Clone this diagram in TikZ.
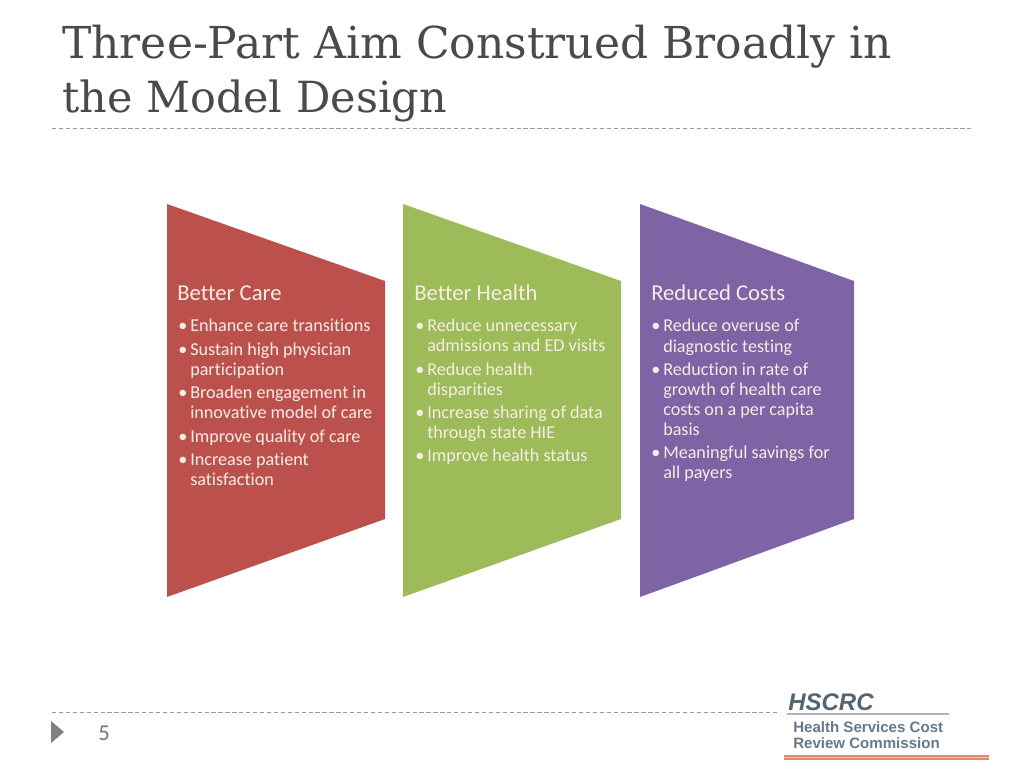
\documentclass[tikz,border=0pt]{standalone}
\usepackage{fontspec}
\setmainfont[Ligatures=NoCommon]{Carlito}
\newfontfamily\titlefont{DejaVu Serif}
\newfontfamily\logofont{Liberation Sans}
\definecolor{cred}{HTML}{BC504D}
\definecolor{cgreen}{HTML}{9EBB59}
\definecolor{cpurple}{HTML}{7E63A5}
\definecolor{ctitle}{HTML}{4A4A4A}
\definecolor{cdash}{HTML}{9A9A9A}
\definecolor{clogo}{HTML}{66798A}
\definecolor{clogod}{HTML}{55646F}
\definecolor{ctext}{HTML}{F6EDE4}
\definecolor{csalmon}{HTML}{DE8B6F}
\definecolor{csalmonl}{HTML}{F0C4B0}
\tikzset{
 x=0.75pt,y=-0.75pt,
 panel/.style={draw=none},
 titletext/.style={anchor=base west,inner sep=0pt,text=ctitle,font=\titlefont\fontsize{33}{33}\selectfont},
 headtext/.style={anchor=base west,inner sep=0pt,text=ctext,font=\fontsize{17}{17}\selectfont},
 bodytext/.style={anchor=base west,inner sep=0pt,text=ctext,font=\fontsize{13.6}{14}\selectfont},
 rulestyle/.style={draw=cdash,line width=0.6pt,dash pattern=on 3.2pt off 2pt},
 logosub/.style={anchor=base west,inner sep=0pt,text=clogo,font=\logofont\bfseries\fontsize{11.3}{11}\selectfont},
}
\newcommand{\hd}[4]{\node[headtext] (#1) at (#2,#3) {#4};}
\newcommand{\bl}[4]{\node[bodytext] (#1) at (#2,#3) {#4};}
\begin{document}
\begin{tikzpicture}
\useasboundingbox (0,0) rectangle (1024,768);
\fill[white] (0,0) rectangle (1024,768);
% title
\node[titletext] (t1) at (62,58) {Three-Part Aim Construed Broadly in};
\node[titletext,font=\titlefont\fontsize{32.2}{33}\selectfont] (t2) at (62,112) {the Model Design};
\coordinate (r1a) at (52,128); \coordinate (r1b) at (973,128);
\draw[rulestyle] (r1a) -- (r1b);
% panels
\fill[panel,cred] (167,204) -- (385,281) -- (385,519) -- (167,597) -- cycle;
\fill[panel,cgreen] (403,204) -- (621,281) -- (621,519) -- (403,597) -- cycle;
\fill[panel,cpurple] (640,204) -- (854,281) -- (854,519) -- (640,597) -- cycle;
% better care
\hd{a0}{177}{300}{Better Care}
\bl{ab1}{178}{331}{•}\bl{a1}{190}{331}{Enhance care transitions}
\bl{ab2}{178}{355}{•}\bl{a2}{190}{355}{Sustain high physician}
\bl{a3}{190}{375}{participation}
\bl{ab4}{178}{398}{•}\bl{a4}{190}{398}{Broaden engagement in}
\bl{a5}{190}{418}{innovative model of care}
\bl{ab6}{178}{442}{•}\bl{a6}{190}{442}{Improve quality of care}
\bl{ab7}{178}{465}{•}\bl{a7}{190}{465}{Increase patient}
\bl{a8}{190}{485}{satisfaction}
% better health
\hd{b0}{414}{300}{Better Health}
\bl{bb1}{415}{331}{•}\bl{b1}{427}{331}{Reduce unnecessary}
\bl{b2}{427}{351}{admissions and ED visits}
\bl{bb3}{415}{375}{•}\bl{b3}{427}{375}{Reduce health}
\bl{b4}{427}{395}{disparities}
\bl{bb5}{415}{418}{•}\bl{b5}{427}{418}{Increase sharing of data}
\bl{b6}{427}{438}{through state HIE}
\bl{bb7}{415}{461}{•}\bl{b7}{427}{461}{Improve health status}
% reduced costs
\hd{c0}{651}{300}{Reduced Costs}
\bl{cb1}{651}{331}{•}\bl{c1}{663}{331}{Reduce overuse of}
\bl{c2}{663}{352}{diagnostic testing}
\bl{cb3}{651}{375}{•}\bl{c3}{663}{375}{Reduction in rate of}
\bl{c4}{663}{395}{growth of health care}
\bl{c5}{663}{415}{costs on a per capita}
\bl{c6}{663}{435}{basis}
\bl{cb7}{651}{458}{•}\bl{c7}{663}{458}{Meaningful savings for}
\bl{c8}{663}{478}{all payers}
% footer
\coordinate (r2a) at (52,712); \coordinate (r2b) at (780,712);
\draw[rulestyle] (r2a) -- (r2b);
\fill[black!50] (51,721) -- (64,732) -- (51,743) -- cycle;
\node[anchor=base west,inner sep=0pt,text=black!55,font=\fontsize{17}{17}\selectfont] (pg) at (98,740) {5};
% logo
\node[anchor=base west,inner sep=0pt,text=clogod,font=\logofont\bfseries\itshape\fontsize{18}{18}\selectfont] (l1) at (788,710) {HSCRC};
\fill[black!30] (787,713.2) rectangle (949,715.2);
\node[logosub] (l2) at (793,732) {Health Services Cost};
\node[logosub] (l3) at (793,748) {Review Commission};
\fill[csalmon] (784,755) rectangle (989,759.5);
\fill[csalmonl] (784,756.8) rectangle (989,757.6);
\end{tikzpicture}
\end{document}
